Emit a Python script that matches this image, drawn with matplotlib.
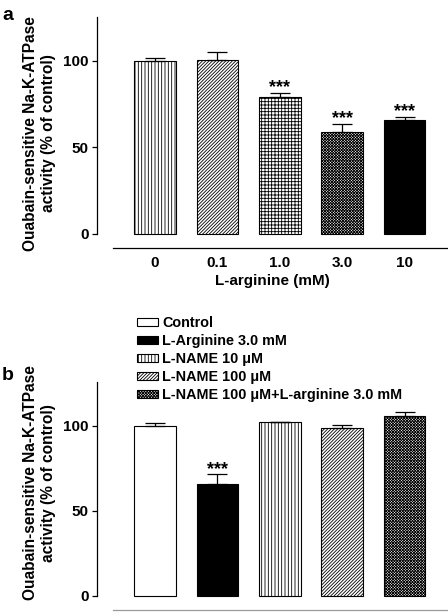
import matplotlib
matplotlib.use("Agg")
import matplotlib.pyplot as plt
from matplotlib.patches import Patch

plt.rcParams['font.family'] = ['Liberation Sans', 'DejaVu Sans']
plt.rcParams['font.weight'] = 'bold'
plt.rcParams['hatch.linewidth'] = 0.6

# ---- Data ----
a_categories = ["0", "0.1", "1.0", "3.0", "10"]
a_values = [100.0, 100.8, 79.4, 58.8, 66.0]
a_errors = [1.8, 4.5, 2.3, 5.0, 1.8]
a_stars = ["", "", "***", "***", "***"]
a_xlabel = "L-arginine (mM)"

b_categories = ["Control", "L-Arginine 3.0 mM", "L-NAME 10 \u03bcM",
                "L-NAME 100 \u03bcM", "L-NAME 100 \u03bcM+L-arginine 3.0 mM"]
b_values = [100.0, 65.7, 102.0, 99.0, 105.7]
b_errors = [1.6, 5.7, 0.3, 1.6, 2.2]
b_stars = ["", "***", "", "", ""]

ylabel = "Ouabain-sensitive Na-K-ATPase\nactivity (% of control)"
yticks = [0, 50, 100]

VERT = "|" * 5
DIAG = "/" * 10
GRID = "+" * 5
CROSS = "x" * 12
a_fill = ["white", "white", "white", "white", "black"]
a_hatch = [VERT, DIAG, GRID, CROSS, None]
b_fill = ["white", "black", "white", "white", "white"]
b_hatch = [None, None, VERT, DIAG, CROSS]

W, H = 448, 612
fig = plt.figure(figsize=(W / 100, H / 100), dpi=100)


def px_axes(left, right, top, bottom):
    return fig.add_axes([left / W, 1 - bottom / H, (right - left) / W, (bottom - top) / H])


def draw_panel(ax, values, errors, stars, fills, hatches, ymin, ymax, xline_color):
    x = list(range(len(values)))
    for i in x:
        ax.bar(i, values[i], width=0.67, color=fills[i], edgecolor="black",
               linewidth=0.8, hatch=hatches[i], zorder=2)
    ax.errorbar(x, values, yerr=[[0] * len(values), errors], fmt="none",
                ecolor="black", elinewidth=0.9, capsize=7.2, capthick=0.9, zorder=3)
    for i in x:
        if stars[i]:
            ax.text(i, values[i] + errors[i] + 0.3, stars[i], ha="center", va="baseline",
                    fontsize=13, fontweight="bold")
    ax.set_xlim(-0.93, 4.68)
    ax.set_ylim(ymin, ymax)
    ax.spines["top"].set_visible(False)
    ax.spines["right"].set_visible(False)
    ax.spines["left"].set_bounds(0, ymax)
    ax.spines["bottom"].set_bounds(-0.67, 4.68)
    ax.spines["bottom"].set_color(xline_color)
    ax.spines["left"].set_linewidth(0.9)
    ax.spines["bottom"].set_linewidth(0.9)
    ax.set_yticks(yticks)
    ax.set_yticklabels([str(t) for t in yticks], fontsize=11, fontweight="bold")
    ax.tick_params(axis="y", length=3.6, width=0.9, pad=2.5)
    ax.tick_params(axis="x", length=0)
    ax.set_facecolor("none")


# Panel a
ax1 = px_axes(97, 447, 17, 248)
draw_panel(ax1, a_values, a_errors, a_stars, a_fill, a_hatch, -8.1, 125.4, "black")
ax1.set_xticks(range(len(a_categories)))
ax1.set_xticklabels(a_categories, fontsize=11, fontweight="bold")
ax1.tick_params(axis="x", pad=6)
ax1.set_xlabel(a_xlabel, fontsize=11, fontweight="bold", labelpad=3)

# Panel b
ax2 = px_axes(97, 447, 381.7, 610)
draw_panel(ax2, b_values, b_errors, b_stars, b_fill, b_hatch, -8.4, 126.0, "#999999")
ax2.set_xticks([])

fig.text(39.5 / W, 1 - 133.5 / H, ylabel, rotation=90, ha="center", va="center",
         multialignment="center", fontsize=11.2, fontweight="bold")
fig.text(39.5 / W, 1 - 483 / H, ylabel, rotation=90, ha="center", va="center",
         multialignment="center", fontsize=11.2, fontweight="bold")

fig.text(2 / W, 1 - 20 / H, "a", fontsize=14, fontweight="bold", va="baseline")
fig.text(2 / W, 1 - 380 / H, "b", fontsize=14, fontweight="bold", va="baseline")

handles = [Patch(facecolor=b_fill[i], edgecolor="black", hatch=b_hatch[i], linewidth=0.8)
           for i in range(len(b_categories))]
leg = fig.legend(handles, b_categories, loc="upper left",
                 bbox_to_anchor=(137 / W, 1 - 316 / H), frameon=False,
                 prop={"size": 10.4, "weight": "bold"}, handlelength=1.45, handleheight=0.5,
                 handletextpad=0.28, labelspacing=0.28, borderaxespad=0, borderpad=0)

fig.savefig("out.png", dpi=100)
